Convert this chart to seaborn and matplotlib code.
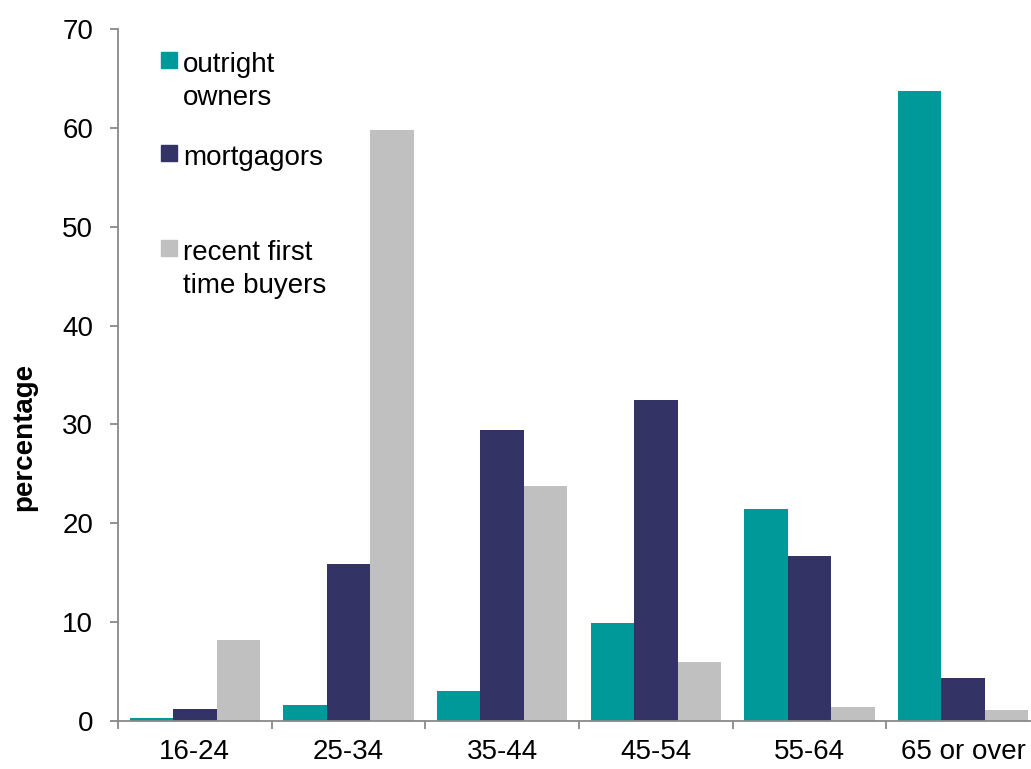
import numpy as np
import pandas as pd
import seaborn as sns
import matplotlib.pyplot as plt
from matplotlib.patches import Rectangle

# Данные
age_groups = ['16-24', '25-34', '35-44', '45-54', '55-64', '65 or over']
outright_owners = [0.3, 1.6, 3.0, 9.9, 21.4, 63.7]
mortgagors = [1.2, 15.9, 29.4, 32.5, 16.7, 4.4]
recent_ftb = [8.2, 59.8, 23.8, 6.0, 1.4, 1.1]

series_names = ['outright owners', 'mortgagors', 'recent first time buyers']
legend_labels = [['outright', 'owners'], ['mortgagors'], ['recent first', 'time buyers']]
colors = ['#009999', '#333366', '#C0C0C0']

df = pd.DataFrame({
    'age': age_groups * 3,
    'value': outright_owners + mortgagors + recent_ftb,
    'series': np.repeat(series_names, len(age_groups)),
})

W, H = 1031, 769
FS = 20
sns.set_theme(style='white')
plt.rcParams['font.family'] = ['Liberation Sans', 'DejaVu Sans']
plt.rcParams['text.color'] = 'black'
plt.rcParams['axes.labelcolor'] = 'black'
plt.rcParams['xtick.labelcolor'] = 'black'
plt.rcParams['ytick.labelcolor'] = 'black'

fig = plt.figure(figsize=(W / 100, H / 100), dpi=100)
# оси выходят за правый край, как в исходнике
ax = fig.add_axes([118 / W, 1 - 721 / H, 922 / W, 692 / H])

sns.barplot(data=df, x='age', y='value', hue='series', order=age_groups,
            hue_order=series_names, palette=colors, width=0.85, gap=0,
            saturation=1, linewidth=0, errorbar=None, legend=False, ax=ax)

ax.set_xlim(-0.5, len(age_groups) - 0.5)
ax.set_ylim(0, 70)
ax.set_yticks(range(0, 71, 10))
ax.set_xlabel('')
ax.set_ylabel('percentage', fontsize=FS, fontweight='bold')
ax.yaxis.set_label_coords(-0.088, 0.41)

spine_color = '#898989'
for s in ['top', 'right']:
    ax.spines[s].set_visible(False)
for s in ['left', 'bottom']:
    ax.spines[s].set_color(spine_color)
    ax.spines[s].set_linewidth(1.3)

ax.tick_params(axis='y', length=6, width=1.3, color=spine_color,
               direction='out', pad=12, labelsize=FS, left=True)
# метки категорий без засечек, засечки на границах групп
ax.tick_params(axis='x', which='major', length=0, pad=13, labelsize=FS)
ax.set_xticks(np.arange(-0.5, len(age_groups)), minor=True)
ax.tick_params(axis='x', which='minor', length=6, width=1.3,
               color=spine_color, direction='out', bottom=True)

# легенда вручную: квадрат выровнен по первой строке
sq = 16
legend_y = [72, 165, 260]
line_gap = 33
for lines, col, yb in zip(legend_labels, colors, legend_y):
    fig.patches.append(Rectangle((161 / W, 1 - (yb - 4) / H), sq / W, sq / H,
                                 transform=fig.transFigure, color=col))
    for i, line in enumerate(lines):
        fig.text(183 / W, 1 - (yb + i * line_gap) / H, line, fontsize=FS,
                 va='baseline', ha='left')

fig.savefig('out.png', dpi=100)
